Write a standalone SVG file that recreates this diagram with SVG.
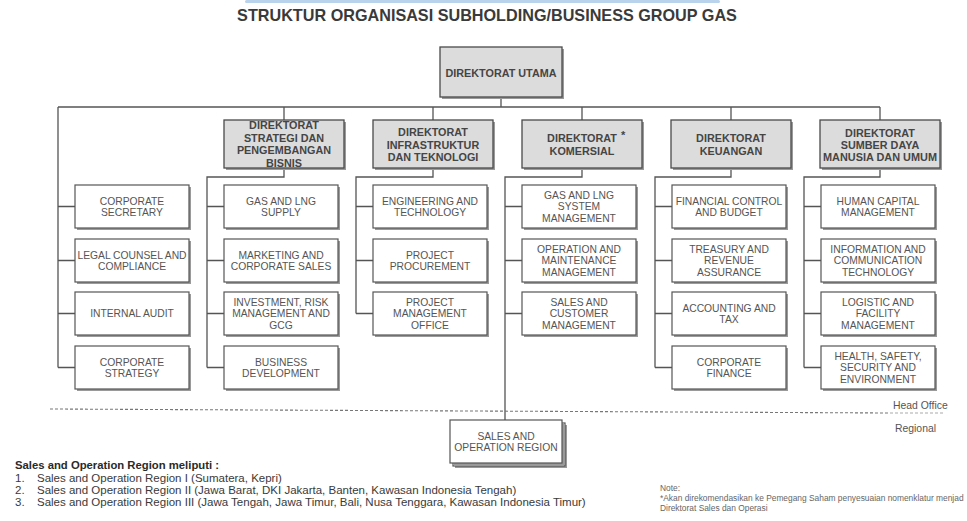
<svg xmlns="http://www.w3.org/2000/svg" width="967" height="521" viewBox="0 0 967 521">
<style>
text{font-family:"Liberation Sans",Arial,sans-serif;}
.title{font-size:16.2px;font-weight:bold;fill:#3a3a3a;text-anchor:middle;}
.sh{fill:#9a9a9a;}
.dbox{fill:#dcdcdc;stroke:#4a4a4a;stroke-width:1.3;}
.ubox{fill:#ffffff;stroke:#555;stroke-width:1.2;}
.dt{font-size:10.8px;font-weight:bold;fill:#454545;text-anchor:middle;}
.ut{font-size:10.3px;fill:#555;text-anchor:middle;}
.conn{fill:none;stroke:#555;stroke-width:1.3;}
.dash{stroke:#777;stroke-width:1.1;stroke-dasharray:3 2;}
.lbl{font-size:10.4px;fill:#555;}
.lh{font-size:11.3px;font-weight:bold;fill:#2a2a2a;}
.li{font-size:11.5px;fill:#3a3a3a;}
.note{font-size:8.4px;fill:#666;}
</style>
<rect x="245" y="0" width="475" height="3" rx="1.5" fill="#b9d3ec"/>
<text class="title" x="487" y="21">STRUKTUR ORGANISASI SUBHOLDING/BUSINESS GROUP GAS</text>

<g id="connectors">
<path class="conn" d="M501,97 V107 M58,107 H880 M284,107 V120 M433,107 V120 M582,107 V120 M731,107 V120 M880,107 V120"/>
<path class="conn" d="M58,107 V367.5 M58,206.5 H75 M58,260.5 H75 M58,313.5 H75 M58,367.5 H75"/>
<path class="conn" d="M284,168 V177 H207 V367.5 M207,206.5 H224 M207,260.5 H224 M207,313.5 H224 M207,367.5 H224"/>
<path class="conn" d="M433,168 V177 H356 V313.5 M356,206.5 H373 M356,260.5 H373 M356,313.5 H373"/>
<path class="conn" d="M582,168 V177 H505 V420 M505,206.5 H522 M505,260.5 H522 M505,313.5 H522"/>
<path class="conn" d="M731,168 V177 H655 V367.5 M655,206.5 H672 M655,260.5 H672 M655,313.5 H672 M655,367.5 H672"/>
<path class="conn" d="M880,168 V177 H804 V367.5 M804,206.5 H821 M804,260.5 H821 M804,313.5 H821 M804,367.5 H821"/>
</g>

<line class="dash" x1="50" y1="409" x2="890" y2="413"/>
<line class="dash" x1="890" y1="413" x2="945" y2="413" style="stroke:#aaa"/>
<text class="lbl" x="893" y="409">Head Office</text>
<text class="lbl" x="895" y="432">Regional</text>

<g id="direktorat-utama">
<rect class="sh" x="442" y="49" width="122" height="50"/>
<rect class="dbox" x="440" y="47" width="122" height="50"/>
<text class="dt" x="501" y="76.5">DIREKTORAT UTAMA</text>
</g>

<g id="dir-strategi">
<rect class="sh" x="226" y="122" width="120" height="48"/>
<rect class="dbox" x="224" y="120" width="120" height="48"/>
<text class="dt" x="284" y="129">DIREKTORAT</text>
<text class="dt" x="284" y="141.6">STRATEGI DAN</text>
<text class="dt" x="284" y="154.2">PENGEMBANGAN</text>
<text class="dt" x="284" y="166.8">BISNIS</text>
</g>
<g id="dir-infra">
<rect class="sh" x="375" y="122" width="120" height="48"/>
<rect class="dbox" x="373" y="120" width="120" height="48"/>
<text class="dt" x="433" y="136">DIREKTORAT</text>
<text class="dt" x="433" y="148.5">INFRASTRUKTUR</text>
<text class="dt" x="433" y="161">DAN TEKNOLOGI</text>
</g>
<g id="dir-komersial">
<rect class="sh" x="524" y="122" width="120" height="48"/>
<rect class="dbox" x="522" y="120" width="120" height="48"/>
<text class="dt" x="582" y="142">DIREKTORAT</text>
<text class="dt" x="621" y="139" style="text-anchor:start;font-size:11px">*</text>
<text class="dt" x="582" y="155">KOMERSIAL</text>
</g>
<g id="dir-keuangan">
<rect class="sh" x="673" y="122" width="120" height="48"/>
<rect class="dbox" x="671" y="120" width="120" height="48"/>
<text class="dt" x="731" y="142">DIREKTORAT</text>
<text class="dt" x="731" y="155">KEUANGAN</text>
</g>
<g id="dir-sdm">
<rect class="sh" x="822" y="122" width="120" height="48"/>
<rect class="dbox" x="820" y="120" width="120" height="48"/>
<text class="dt" x="880" y="137">DIREKTORAT</text>
<text class="dt" x="880" y="149">SUMBER DAYA</text>
<text class="dt" x="880" y="161" style="font-size:10.9px">MANUSIA DAN UMUM</text>
</g>

<g id="corporate-secretary"><rect class="sh" x="77" y="187" width="114" height="43"/><rect class="ubox" x="75" y="185" width="114" height="43"/>
<text class="ut" x="132" y="204.7">CORPORATE</text><text class="ut" x="132" y="216.2">SECRETARY</text></g>
<g id="legal-counsel"><rect class="sh" x="77" y="241" width="114" height="43"/><rect class="ubox" x="75" y="239" width="114" height="43"/>
<text class="ut" x="132" y="258.7">LEGAL COUNSEL AND</text><text class="ut" x="132" y="270.2">COMPLIANCE</text></g>
<g id="internal-audit"><rect class="sh" x="77" y="294" width="114" height="43"/><rect class="ubox" x="75" y="292" width="114" height="43"/>
<text class="ut" x="132" y="317.2">INTERNAL AUDIT</text></g>
<g id="corporate-strategy"><rect class="sh" x="77" y="348" width="114" height="43"/><rect class="ubox" x="75" y="346" width="114" height="43"/>
<text class="ut" x="132" y="365.7">CORPORATE</text><text class="ut" x="132" y="377.2">STRATEGY</text></g>

<g id="gas-lng-supply"><rect class="sh" x="226" y="187" width="114" height="43"/><rect class="ubox" x="224" y="185" width="114" height="43"/>
<text class="ut" x="281" y="204.7">GAS AND LNG</text><text class="ut" x="281" y="216.2">SUPPLY</text></g>
<g id="marketing"><rect class="sh" x="226" y="241" width="114" height="43"/><rect class="ubox" x="224" y="239" width="114" height="43"/>
<text class="ut" x="281" y="258.7">MARKETING AND</text><text class="ut" x="281" y="270.2">CORPORATE SALES</text></g>
<g id="investment"><rect class="sh" x="226" y="294" width="114" height="43"/><rect class="ubox" x="224" y="292" width="114" height="43"/>
<text class="ut" x="281" y="305.7">INVESTMENT, RISK</text><text class="ut" x="281" y="317.2">MANAGEMENT AND</text><text class="ut" x="281" y="328.7">GCG</text></g>
<g id="business-development"><rect class="sh" x="226" y="348" width="114" height="43"/><rect class="ubox" x="224" y="346" width="114" height="43"/>
<text class="ut" x="281" y="365.7">BUSINESS</text><text class="ut" x="281" y="377.2">DEVELOPMENT</text></g>

<g id="engineering"><rect class="sh" x="375" y="187" width="114" height="43"/><rect class="ubox" x="373" y="185" width="114" height="43"/>
<text class="ut" x="430" y="204.7">ENGINEERING AND</text><text class="ut" x="430" y="216.2">TECHNOLOGY</text></g>
<g id="project-procurement"><rect class="sh" x="375" y="241" width="114" height="43"/><rect class="ubox" x="373" y="239" width="114" height="43"/>
<text class="ut" x="430" y="258.7">PROJECT</text><text class="ut" x="430" y="270.2">PROCUREMENT</text></g>
<g id="pmo"><rect class="sh" x="375" y="294" width="114" height="43"/><rect class="ubox" x="373" y="292" width="114" height="43"/>
<text class="ut" x="430" y="305.7">PROJECT</text><text class="ut" x="430" y="317.2">MANAGEMENT</text><text class="ut" x="430" y="328.7">OFFICE</text></g>

<g id="gas-lng-system"><rect class="sh" x="524" y="187" width="114" height="43"/><rect class="ubox" x="522" y="185" width="114" height="43"/>
<text class="ut" x="579" y="198.7">GAS AND LNG</text><text class="ut" x="579" y="210.2">SYSTEM</text><text class="ut" x="579" y="221.7">MANAGEMENT</text></g>
<g id="operation-maintenance"><rect class="sh" x="524" y="241" width="114" height="43"/><rect class="ubox" x="522" y="239" width="114" height="43"/>
<text class="ut" x="579" y="252.7">OPERATION AND</text><text class="ut" x="579" y="264.2">MAINTENANCE</text><text class="ut" x="579" y="275.7">MANAGEMENT</text></g>
<g id="sales-customer"><rect class="sh" x="524" y="294" width="114" height="43"/><rect class="ubox" x="522" y="292" width="114" height="43"/>
<text class="ut" x="579" y="305.7">SALES AND</text><text class="ut" x="579" y="317.2">CUSTOMER</text><text class="ut" x="579" y="328.7">MANAGEMENT</text></g>

<g id="financial-control"><rect class="sh" x="674" y="187" width="114" height="43"/><rect class="ubox" x="672" y="185" width="114" height="43"/>
<text class="ut" x="729" y="204.7">FINANCIAL CONTROL</text><text class="ut" x="729" y="216.2">AND BUDGET</text></g>
<g id="treasury"><rect class="sh" x="674" y="241" width="114" height="43"/><rect class="ubox" x="672" y="239" width="114" height="43"/>
<text class="ut" x="729" y="252.7">TREASURY AND</text><text class="ut" x="729" y="264.2">REVENUE</text><text class="ut" x="729" y="275.7">ASSURANCE</text></g>
<g id="accounting"><rect class="sh" x="674" y="294" width="114" height="43"/><rect class="ubox" x="672" y="292" width="114" height="43"/>
<text class="ut" x="729" y="311.7">ACCOUNTING AND</text><text class="ut" x="729" y="323.2">TAX</text></g>
<g id="corporate-finance"><rect class="sh" x="674" y="348" width="114" height="43"/><rect class="ubox" x="672" y="346" width="114" height="43"/>
<text class="ut" x="729" y="365.7">CORPORATE</text><text class="ut" x="729" y="377.2">FINANCE</text></g>

<g id="human-capital"><rect class="sh" x="823" y="187" width="114" height="43"/><rect class="ubox" x="821" y="185" width="114" height="43"/>
<text class="ut" x="878" y="204.7">HUMAN CAPITAL</text><text class="ut" x="878" y="216.2">MANAGEMENT</text></g>
<g id="ict"><rect class="sh" x="823" y="241" width="114" height="43"/><rect class="ubox" x="821" y="239" width="114" height="43"/>
<text class="ut" x="878" y="252.7">INFORMATION AND</text><text class="ut" x="878" y="264.2">COMMUNICATION</text><text class="ut" x="878" y="275.7">TECHNOLOGY</text></g>
<g id="logistic"><rect class="sh" x="823" y="294" width="114" height="43"/><rect class="ubox" x="821" y="292" width="114" height="43"/>
<text class="ut" x="878" y="305.7">LOGISTIC AND</text><text class="ut" x="878" y="317.2">FACILITY</text><text class="ut" x="878" y="328.7">MANAGEMENT</text></g>
<g id="hsse"><rect class="sh" x="823" y="348" width="114" height="43"/><rect class="ubox" x="821" y="346" width="114" height="43"/>
<text class="ut" x="878" y="359.7">HEALTH, SAFETY,</text><text class="ut" x="878" y="371.2">SECURITY AND</text><text class="ut" x="878" y="382.7">ENVIRONMENT</text></g>

<g id="sales-operation-region">
<rect class="sh" x="455" y="425" width="112" height="43"/>
<rect class="ubox" x="453" y="423" width="112" height="43"/>
<rect class="sh" x="452" y="422" width="112" height="43"/>
<rect class="ubox" x="450" y="420" width="112" height="43"/>
<text class="ut" x="506" y="439.7">SALES AND</text>
<text class="ut" x="506" y="451.2">OPERATION REGION</text>
</g>

<g id="legend">
<text class="lh" x="15" y="469">Sales and Operation Region meliputi :</text>
<text class="li" x="15" y="481.5">1.</text><text class="li" x="37" y="481.5">Sales and Operation Region I (Sumatera, Kepri)</text>
<text class="li" x="15" y="493.5">2.</text><text class="li" x="37" y="493.5">Sales and Operation Region II (Jawa Barat, DKI Jakarta, Banten, Kawasan Indonesia Tengah)</text>
<text class="li" x="15" y="505.5">3.</text><text class="li" x="37" y="505.5">Sales and Operation Region III (Jawa Tengah, Jawa Timur, Bali, Nusa Tenggara, Kawasan Indonesia Timur)</text>
</g>

<g id="note">
<text class="note" x="660" y="491">Note:</text>
<text class="note" x="660" y="501">*Akan direkomendasikan ke Pemegang Saham penyesuaian nomenklatur menjad</text>
<text class="note" x="660" y="510.5">Direktorat Sales dan Operasi</text>
</g>
</svg>
